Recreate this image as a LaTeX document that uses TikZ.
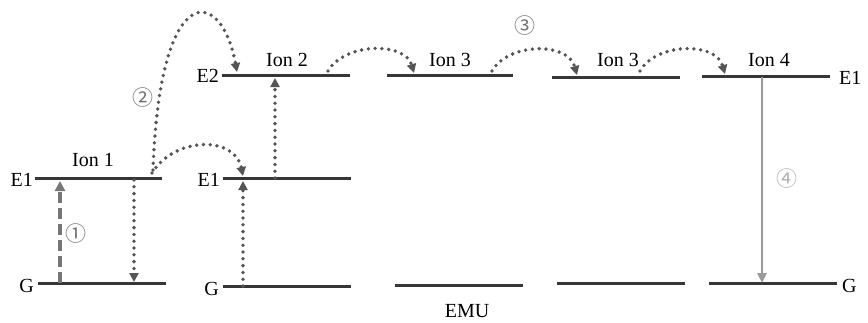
\documentclass[tikz,border=0pt]{standalone}
\usepackage{fontspec}
\setmainfont{Liberation Serif}
\newfontfamily\circfont{Noto Sans CJK SC}
\usetikzlibrary{arrows.meta}
\definecolor{lvl}{HTML}{363636}
\definecolor{dotc}{HTML}{555555}
\definecolor{dashc}{HTML}{777777}
\definecolor{emit}{HTML}{9A9A9A}
\definecolor{numc}{HTML}{707070}
\begin{document}
\begin{tikzpicture}[x=1pt,y=-1pt,
  level/.style={draw=lvl,line width=3pt},
  lab/.style={font=\fontsize{20}{23}\selectfont,inner sep=0pt},
  num/.style={font=\circfont\fontsize{21}{24}\selectfont,text=numc,inner sep=0pt},
  dotarrow/.style={draw=dotc,line width=3.8pt,line cap=round,dash pattern=on 0pt off 6.8pt,
    -{Triangle[length=9pt,width=9pt]}},
  dasharrow/.style={draw=dashc,line width=3.4pt,dash pattern=on 11pt off 5pt,
    -{Triangle[length=10pt,width=10pt]}},
  emitarrow/.style={draw=emit,line width=2.6pt,-{Triangle[length=10pt,width=9pt]}}]
\useasboundingbox (0,0) rectangle (868,322);

% energy levels
\draw[level] (35,178) -- (162,178);   % ion 1, E1
\draw[level] (38,283) -- (166,283);   % ion 1, G
\draw[level] (222,75) -- (350,75);    % ion 2, E2
\draw[level] (223,178) -- (351,178);  % ion 2, E1
\draw[level] (223,286) -- (351,286);  % ion 2, G
\draw[level] (387,75) -- (513,75);    % ion 3, E2
\draw[level] (395,285) -- (523,285);  % ion 3, G
\draw[level] (552,77) -- (680,77);    % second ion 3, E2
\draw[level] (557,283) -- (685,283);  % second ion 3, G
\draw[level] (702,76) -- (830,76);    % ion 4, E1
\draw[level] (709,283) -- (837,283);  % ion 4, G

% labels
\node[lab,anchor=east] (e1a) at (33,180) {E1};
\node[lab,anchor=east] (ga) at (34,286) {G};
\node[lab] (ion1) at (93,160) {Ion 1};
\node[lab,anchor=east] (e2b) at (219,76) {E2};
\node[lab,anchor=east] (e1b) at (220,180) {E1};
\node[lab,anchor=east] (gb) at (219,289) {G};
\node[lab] (ion2) at (287,60) {Ion 2};
\node[lab] (ion3) at (450,60) {Ion 3};
\node[lab] (ion3b) at (618,60) {Ion 3};
\node[lab] (ion4) at (769,60) {Ion 4};
\node[lab,anchor=west] (e1c) at (839,78) {E1};
\node[lab,anchor=west] (gc) at (842,286) {G};
\node[lab] (emu) at (467,311) {EMU};

% circled step numbers
\node[num] (n1) at (76,234) {①};
\node[num] (n2) at (143,98) {②};
\node[num] (n3) at (525,26) {③};
\node[num,text=emit!80] (n4) at (787,179) {④};

% transition end points
\coordinate (a1g) at (60,283);
\coordinate (a1e) at (60,181);
\coordinate (r1e) at (134,180);
\coordinate (r1g) at (134,282);
\coordinate (t1s) at (152,173);
\coordinate (t2s) at (153,170);
\coordinate (b2e1) at (243,176);
\coordinate (b2top) at (237,72);
\coordinate (b2g) at (243,286);
\coordinate (b2u) at (243,181);
\coordinate (b2e1s) at (275,178);
\coordinate (b2e2) at (275,78);
\coordinate (h1s) at (328,71);
\coordinate (h1e) at (414,73);
\coordinate (h2s) at (492,71);
\coordinate (h2e) at (577,75);
\coordinate (h3s) at (640,71);
\coordinate (h3e) at (725,74);
\coordinate (f1) at (762,77);
\coordinate (f2) at (762,283);

% excitation, relaxation and transfer steps
\draw[dasharrow] (a1g) -- (a1e);
\draw[dotarrow] (r1e) -- (r1g);
\draw[dotarrow] (t1s) .. controls (175,136) and (235,136) .. (b2e1);
\draw[dotarrow] (t2s) .. controls (160,-25) and (222,-12) .. (b2top);
\draw[dotarrow] (b2g) -- (b2u);
\draw[dotarrow] (b2e1s) -- (b2e2);
\draw[dotarrow] (h1s) .. controls (345,42) and (405,42) .. (h1e);
\draw[dotarrow] (h2s) .. controls (509,42) and (568,42) .. (h2e);
\draw[dotarrow] (h3s) .. controls (657,42) and (716,42) .. (h3e);
\draw[emitarrow] (f1) -- (f2);
\end{tikzpicture}
\end{document}
